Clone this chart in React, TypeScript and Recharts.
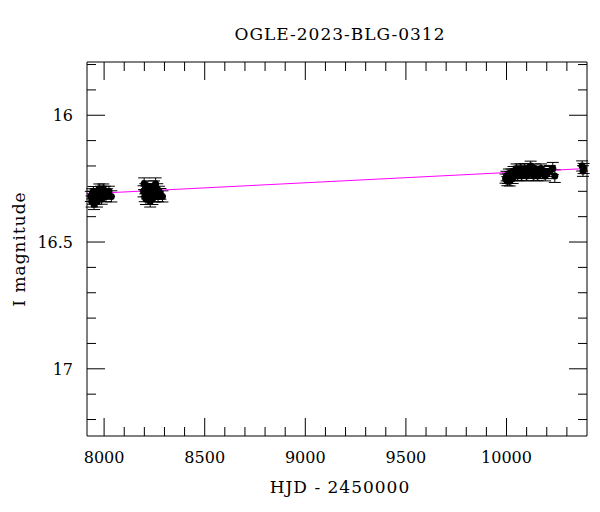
import { ComposedChart, Scatter, ErrorBar, XAxis, YAxis, ReferenceLine } from 'recharts'

// photometry: HJD - 2450000, I magnitude, error
const hjd = [
  7934, 7938, 7941, 7944, 7947, 7950, 7953, 7956, 7959, 7962, 7965, 7968, 7972, 7976, 7980, 7984, 7988, 7992, 7996, 8000,
  8004, 8009, 8015, 8024, 8036,
  8196, 8199, 8202, 8205, 8208, 8211, 8214, 8217, 8220, 8223, 8226, 8229, 8232, 8236, 8240, 8244, 8248, 8252, 8256, 8260,
  8264, 8268, 8273, 8280, 8290,
  9995, 10000, 10004, 10008, 10012, 10016, 10020, 10025, 10030, 10035, 10040, 10045, 10050, 10055, 10060, 10065, 10070,
  10075, 10080, 10085, 10090, 10095, 10100, 10105, 10110, 10115, 10120, 10125, 10130, 10135, 10140, 10145, 10150, 10155,
  10160, 10166, 10172, 10178, 10185, 10192, 10200, 10215, 10230, 10240,
  10376, 10380, 10383
]
const mag = [
  16.32, 16.34, 16.31, 16.33, 16.3, 16.35, 16.32, 16.31, 16.33, 16.3, 16.34, 16.32, 16.31, 16.29, 16.32, 16.3, 16.33, 16.31, 16.29, 16.31,
  16.3, 16.32, 16.31, 16.3, 16.32,
  16.3, 16.27, 16.32, 16.29, 16.33, 16.3, 16.31, 16.28, 16.33, 16.3, 16.32, 16.34, 16.29, 16.31, 16.33, 16.3, 16.28, 16.32, 16.27, 16.31,
  16.29, 16.32, 16.3, 16.31, 16.32,
  16.25, 16.24, 16.26, 16.25, 16.23, 16.26, 16.24, 16.23, 16.25, 16.22, 16.24, 16.23, 16.21, 16.24, 16.22, 16.23, 16.21,
  16.24, 16.22, 16.23, 16.21, 16.22, 16.24, 16.21, 16.23, 16.22, 16.2, 16.23, 16.22, 16.24, 16.21, 16.23, 16.22, 16.24,
  16.22, 16.23, 16.21, 16.23, 16.22, 16.24, 16.23, 16.22, 16.21, 16.24,
  16.2, 16.22, 16.21
]
const magErr = [
  0.02, 0.022, 0.02, 0.021, 0.019, 0.022, 0.02, 0.02, 0.021, 0.019, 0.022, 0.02, 0.02, 0.019, 0.021, 0.02, 0.021, 0.02, 0.019, 0.02,
  0.02, 0.021, 0.02, 0.02, 0.022,
  0.022, 0.023, 0.021, 0.02, 0.022, 0.021, 0.02, 0.021, 0.022, 0.02, 0.021, 0.022, 0.02, 0.021, 0.022, 0.02, 0.021, 0.022, 0.023, 0.021,
  0.02, 0.021, 0.02, 0.021, 0.022,
  0.018, 0.019, 0.018, 0.019, 0.018, 0.019, 0.018, 0.018, 0.019, 0.018, 0.018, 0.019, 0.018, 0.018, 0.019, 0.018, 0.018,
  0.019, 0.018, 0.018, 0.019, 0.018, 0.018, 0.019, 0.018, 0.018, 0.019, 0.018, 0.018, 0.019, 0.018, 0.018, 0.019, 0.018,
  0.018, 0.019, 0.018, 0.019, 0.018, 0.019, 0.02, 0.022, 0.024, 0.025,
  0.02, 0.021, 0.02
]

// linear fit
const fitX = [7915, 10400]
const fitY = [16.31, 16.21]

const xTicks = [8000, 8100, 8200, 8300, 8400, 8500, 8600, 8700, 8800, 8900, 9000, 9100, 9200, 9300, 9400, 9500, 9600, 9700, 9800, 9900, 10000, 10100, 10200, 10300]
const xMajor = [8000, 8500, 9000, 9500, 10000]
const yTicks = [15.8, 15.9, 16, 16.1, 16.2, 16.3, 16.4, 16.5, 16.6, 16.7, 16.8, 16.9, 17, 17.1, 17.2]
const yMajor = [16, 16.5, 17]

const points = hjd.map((x, i) => ({ x, y: mag[i], err: magErr[i] }))

const FONT = 'DejaVu Serif'
const isMajor = (list: number[], v: number) => list.some((m) => Math.abs(m - v) < 1e-6)

const BottomTick = (props: any) => {
  const { x, y, payload } = props
  const major = isMajor(xMajor, payload.value)
  return (
    <g>
      <line x1={x} x2={x} y1={y} y2={y - (major ? 18 : 9)} stroke='#000' />
      {major && (
        <text x={x} y={y + 27} textAnchor='middle' fontFamily={FONT} fontSize={16} fill='#000'>
          {payload.value}
        </text>
      )}
    </g>
  )
}

const TopTick = (props: any) => {
  const { x, y, payload } = props
  const major = isMajor(xMajor, payload.value)
  return <line x1={x} x2={x} y1={y} y2={y + (major ? 18 : 9)} stroke='#000' />
}

const LeftTick = (props: any) => {
  const { x, y, payload } = props
  const major = isMajor(yMajor, payload.value)
  return (
    <g>
      <line x1={x} x2={x + (major ? 18 : 9)} y1={y} y2={y} stroke='#000' />
      {major && (
        <text x={x - 14} y={y + 6} textAnchor='end' fontFamily={FONT} fontSize={16} fill='#000'>
          {payload.value}
        </text>
      )}
    </g>
  )
}

const RightTick = (props: any) => {
  const { x, y, payload } = props
  const major = isMajor(yMajor, payload.value)
  return <line x1={x} x2={x - (major ? 18 : 9)} y1={y} y2={y} stroke='#000' />
}

export default function App() {
  return (
    <div style={{ position: 'absolute', left: 0, top: 0, width: 600, height: 512, background: '#fff' }}>
      <ComposedChart width={600} height={512} margin={{ top: 61, right: 12, bottom: 75, left: 86 }}>
        <text x={340} y={40} textAnchor='middle' fontFamily={FONT} fontSize={17} letterSpacing={1} fill='#000'>
          OGLE-2023-BLG-0312
        </text>
        <text x={340} y={493} textAnchor='middle' fontFamily={FONT} fontSize={17} letterSpacing={1} fill='#000'>
          HJD - 2450000
        </text>
        <text
          x={25}
          y={249}
          textAnchor='middle'
          fontFamily={FONT}
          fontSize={17}
          letterSpacing={1}
          fill='#000'
          transform='rotate(-90 25 249)'
        >
          I magnitude
        </text>
        <XAxis
          xAxisId='b'
          type='number'
          dataKey='x'
          domain={[7915, 10400]}
          allowDataOverflow
          ticks={xTicks}
          interval={0}
          height={1}
          tickSize={0}
          tickMargin={0}
          axisLine={{ stroke: '#000' }}
          tickLine={false}
          tick={BottomTick}
        />
        <XAxis
          xAxisId='t'
          orientation='top'
          type='number'
          dataKey='x'
          domain={[7915, 10400]}
          allowDataOverflow
          ticks={xTicks}
          interval={0}
          height={1}
          tickSize={0}
          tickMargin={0}
          axisLine={{ stroke: '#000' }}
          tickLine={false}
          tick={TopTick}
        />
        <YAxis
          yAxisId='l'
          type='number'
          dataKey='y'
          reversed
          domain={[15.79, 17.265]}
          allowDataOverflow
          ticks={yTicks}
          interval={0}
          width={1}
          tickSize={0}
          tickMargin={0}
          axisLine={{ stroke: '#000' }}
          tickLine={false}
          tick={LeftTick}
        />
        <YAxis
          yAxisId='r'
          orientation='right'
          type='number'
          dataKey='y'
          reversed
          domain={[15.79, 17.265]}
          allowDataOverflow
          ticks={yTicks}
          interval={0}
          width={1}
          tickSize={0}
          tickMargin={0}
          axisLine={{ stroke: '#000' }}
          tickLine={false}
          tick={RightTick}
        />
        <Scatter
          xAxisId='b'
          yAxisId='l'
          data={points}
          isAnimationActive={false}
          shape={(p: any) => <circle cx={p.cx} cy={p.cy} r={3.5} fill='#000' />}
        >
          <ErrorBar dataKey='err' direction='y' width={6} stroke='#000' strokeWidth={1} isAnimationActive={false} />
        </Scatter>
        <ReferenceLine
          xAxisId='b'
          yAxisId='l'
          segment={[
            { x: fitX[0], y: fitY[0] },
            { x: fitX[1], y: fitY[1] }
          ]}
          stroke='#ff00ff'
          strokeWidth={1}
        />
      </ComposedChart>
    </div>
  )
}
